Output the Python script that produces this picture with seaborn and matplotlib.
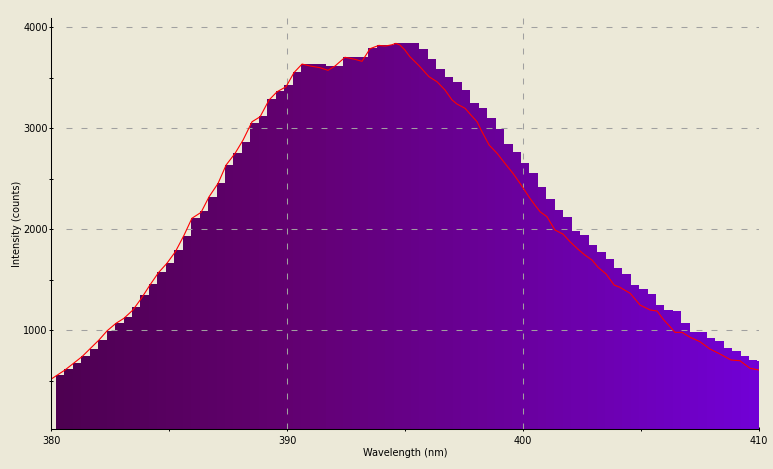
import matplotlib
matplotlib.use("Agg")
import matplotlib.pyplot as plt
import seaborn as sns
from matplotlib.colors import LinearSegmentedColormap
from matplotlib.ticker import FixedLocator

# ---------------- data ----------------
wavelength_nm = [
    380.38, 380.74, 381.10, 381.45, 381.81, 382.17, 382.53, 382.89, 383.25, 383.60,
    383.96, 384.32, 384.68, 385.04, 385.39, 385.75, 386.11, 386.47, 386.83, 387.19,
    387.54, 387.90, 388.26, 388.62, 388.98, 389.34, 389.69, 390.05, 390.41, 390.77,
    391.13, 391.48, 391.84, 392.20, 392.56, 392.92, 393.28, 393.63, 393.99, 394.35,
    394.71, 395.07, 395.42, 395.78, 396.14, 396.50, 396.86, 397.22, 397.57, 397.93,
    398.29, 398.65, 399.01, 399.37, 399.72, 400.08, 400.44, 400.80, 401.16, 401.51,
    401.87, 402.23, 402.59, 402.95, 403.31, 403.66, 404.02, 404.38, 404.74, 405.10,
    405.45, 405.81, 406.17, 406.53, 406.89, 407.25, 407.60, 407.96, 408.32, 408.68,
    409.04, 409.40, 409.75, 410.11,
]
intensity_counts = [
    557, 617, 676, 745, 815, 904, 993, 1072, 1132, 1231,
    1350, 1458, 1577, 1666, 1795, 1933, 2111, 2180, 2319, 2458,
    2636, 2755, 2864, 3051, 3121, 3290, 3369, 3429, 3557, 3636,
    3636, 3636, 3617, 3617, 3706, 3706, 3706, 3795, 3825, 3825,
    3844, 3844, 3844, 3785, 3686, 3587, 3507, 3458, 3379, 3250,
    3200, 3101, 2992, 2844, 2765, 2656, 2557, 2418, 2300, 2191,
    2122, 1983, 1944, 1845, 1775, 1706, 1617, 1557, 1449, 1409,
    1359, 1250, 1201, 1191, 1072, 983, 983, 924, 894, 825,
    795, 745, 706, 696,
]
line_wavelength_nm = [
    380.00, 380.58, 381.30, 382.02, 382.37, 382.74, 383.08, 383.46, 383.82, 384.18,
    384.54, 384.90, 385.26, 385.63, 385.96, 386.35, 386.69, 387.07, 387.41, 387.79,
    388.13, 388.51, 388.85, 389.23, 389.57, 389.95, 390.29, 390.63, 390.97, 391.39,
    391.73, 392.03, 392.45, 392.87, 393.17, 393.34, 393.51, 393.89, 394.15, 394.44,
    394.61, 394.78, 394.99, 395.20, 395.59, 396.01, 396.35, 396.69, 396.99, 397.20,
    397.54, 397.79, 398.05, 398.22, 398.56, 398.90, 399.23, 399.57, 399.87, 400.29,
    400.50, 400.72, 401.01, 401.35, 401.69, 401.99, 402.33, 402.62, 402.92, 403.18,
    403.52, 403.86, 404.11, 404.54, 404.96, 405.39, 405.68, 405.94, 406.23, 406.44,
    406.74, 407.08, 407.50, 407.92, 408.35, 408.81, 409.19, 409.62, 410.00,
]
line_counts = [
    518, 607, 739, 904, 996, 1069, 1119, 1201, 1317, 1448,
    1570, 1663, 1778, 1943, 2109, 2168, 2323, 2455, 2636, 2752,
    2884, 3065, 3114, 3280, 3362, 3411, 3552, 3636, 3617, 3600,
    3574, 3617, 3703, 3683, 3663, 3725, 3788, 3821, 3814, 3827,
    3841, 3824, 3775, 3709, 3619, 3511, 3461, 3379, 3280, 3240,
    3198, 3131, 3065, 2983, 2834, 2752, 2653, 2554, 2455, 2307,
    2240, 2174, 2125, 1993, 1953, 1877, 1802, 1745, 1696, 1624,
    1557, 1448, 1425, 1366, 1250, 1201, 1191, 1109, 1036, 980,
    980, 931, 887, 815, 765, 706, 699, 624, 607,
]
x_major = [380, 390, 400, 410]
x_minor = [385, 395, 405]
y_major = [1000, 2000, 3000, 4000]
y_minor = [500, 1500, 2500, 3500]

# ---------------- style ----------------
sns.set_theme(style="ticks")
plt.rcParams["font.family"] = ["DejaVu Sans"]
plt.rcParams["lines.scale_dashes"] = False

BG = "#ECE9D8"
GRID = "#A0A0A0"
W, H = 773, 469

fig = plt.figure(figsize=(W / 100, H / 100), dpi=100, facecolor=BG)
left, right, top, bottom = 51.3, 759.0, 18.0, 429.3
ax = fig.add_axes([left / W, 1 - bottom / H, (right - left) / W, (bottom - top) / H])
ax.set_facecolor(BG)

cmap = LinearSegmentedColormap.from_list(
    "violet",
    [(0.0, "#4D0050"), (1 / 3, "#620070"), (2 / 3, "#6A009E"), (1.0, "#7100D6")],
)
bar_colors = [cmap((w - 380) / 30) for w in wavelength_nm]
# slightly overlapping bars so no seams appear between neighbouring steps
ax.bar(wavelength_nm, intensity_counts, width=0.368, color=bar_colors,
       linewidth=0, antialiased=False, zorder=1)

dash = (0, (4.3, 6.5))
for yv in y_major:
    ax.axhline(yv, xmin=14.7 / (right - left), color=GRID, lw=0.75, ls=dash, zorder=2)
for xv in x_major[1:-1]:
    ax.axvline(xv, color=GRID, lw=0.75, ls=dash, zorder=2)

sns.lineplot(x=line_wavelength_nm, y=line_counts, color="red", lw=0.8,
             ax=ax, zorder=3, sort=False, estimator=None)

ax.set_xlim(380, 410)
ax.set_ylim(20, 4092)
ax.xaxis.set_major_locator(FixedLocator(x_major))
ax.xaxis.set_minor_locator(FixedLocator(x_minor))
ax.yaxis.set_major_locator(FixedLocator(y_major))
ax.yaxis.set_minor_locator(FixedLocator(y_minor))
ax.set_xticklabels([str(v) for v in x_major])
ax.set_yticklabels([str(v) for v in y_major])

ax.tick_params(which="both", direction="inout", length=3.1, width=0.72,
               colors="black", labelsize=7)
ax.tick_params(axis="x", which="both", pad=3.5)
ax.tick_params(axis="y", which="both", pad=1.0)

for s in ["top", "right"]:
    ax.spines[s].set_visible(False)
for s in ["left", "bottom"]:
    ax.spines[s].set_color("black")
    ax.spines[s].set_linewidth(0.75)
    ax.spines[s].set_zorder(4)

ax.set_xlabel("Wavelength (nm)", fontsize=7, color="black", labelpad=1.5)
ax.set_ylabel("Intensity (counts)", fontsize=7, color="black", labelpad=0.5)

fig.savefig("out.png", dpi=100, facecolor=BG)
